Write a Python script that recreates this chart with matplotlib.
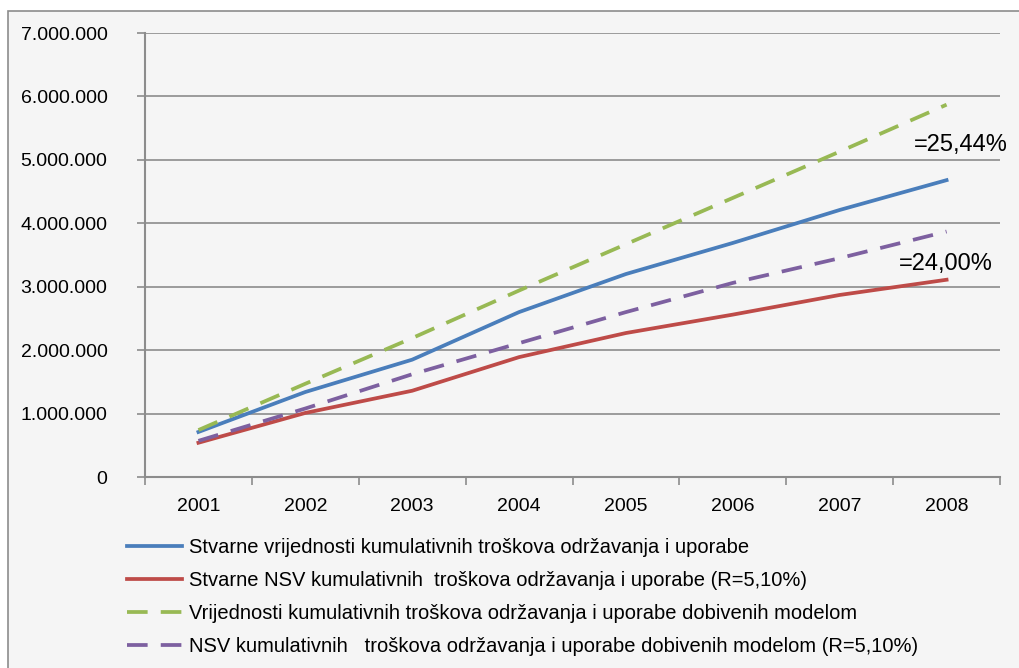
import matplotlib
matplotlib.use("Agg")
import numpy as np
from matplotlib import pyplot as plt
from matplotlib.patches import Rectangle
from matplotlib.ticker import FuncFormatter, MultipleLocator

plt.rcParams['font.family'] = ['Liberation Sans', 'DejaVu Sans']

years = ['2001', '2002', '2003', '2004', '2005', '2006', '2007', '2008']
stvarne = [0.71, 1.34, 1.85, 2.60, 3.20, 3.69, 4.21, 4.68]
stvarne_nsv = [0.54, 1.01, 1.36, 1.89, 2.27, 2.56, 2.87, 3.11]
model = [0.74, 1.47, 2.19, 2.94, 3.67, 4.40, 5.13, 5.87]
model_nsv = [0.57, 1.08, 1.62, 2.11, 2.60, 3.06, 3.45, 3.87]

labels = ['Stvarne vrijednosti kumulativnih troškova održavanja i uporabe',
          'Stvarne NSV kumulativnih  troškova održavanja i uporabe (R=5,10%)',
          'Vrijednosti kumulativnih troškova održavanja i uporabe dobivenih modelom',
          'NSV kumulativnih   troškova održavanja i uporabe dobivenih modelom (R=5,10%)']

bg = '#f5f5f5'
fig = plt.figure(figsize=(10.19, 6.68), dpi=100, facecolor='white')
border = Rectangle((8 / 1019, -0.1), 1.2, 1.1 - 11 / 668,
                   transform=fig.transFigure, facecolor=bg,
                   edgecolor='#8c8c8c', linewidth=1.2, zorder=-5)
fig.add_artist(border)
ax = fig.add_axes([145 / 1019, 1 - 477 / 668, 855 / 1019, 444 / 668])
ax.set_zorder(2)
ax.set_facecolor(bg)

x = np.arange(len(years))
ax.plot(x, stvarne, color='#4a7ebb', lw=2.7, label=labels[0])
ax.plot(x, stvarne_nsv, color='#be4b48', lw=2.7, label=labels[1])
ax.plot(x, model, color='#98b954', lw=2.7, dashes=(5.5, 3.5), label=labels[2])
ax.plot(x, model_nsv, color='#7d60a0', lw=2.7, dashes=(5.5, 3.5), label=labels[3])

ax.set_xlim(-0.5, len(years) - 0.5)
ax.set_ylim(0, 7)
ax.yaxis.set_major_locator(MultipleLocator(1))
ax.yaxis.set_major_formatter(FuncFormatter(
    lambda v, p: '0' if v == 0 else f'{int(round(v * 1e6)):,}'.replace(',', '.')))
ax.set_xticks(x)
ax.set_xticklabels(years)
ax.set_xticks(np.arange(-0.5, len(years)), minor=True)
ax.tick_params(axis='x', which='major', length=0, pad=15, labelsize=14)
ax.tick_params(axis='x', which='minor', length=6, color='#8c8c8c', width=1.2)
ax.tick_params(axis='y', length=6, color='#8c8c8c', width=1.2, labelsize=14, pad=21)
ax.grid(axis='y', color='#8c8c8c', lw=1.2)
ax.set_axisbelow(True)
for s in ['top', 'right']:
    ax.spines[s].set_visible(False)
for s in ['left', 'bottom']:
    ax.spines[s].set_color('#8c8c8c')
    ax.spines[s].set_linewidth(1.5)

ax.text(7.57, 5.23, '=25,44%', fontsize=17, ha='right', va='center')
ax.text(7.43, 3.36, '=24,00%', fontsize=17, ha='right', va='center')

ax.legend(loc='upper left', bbox_to_anchor=(109 / 1019, 1 - 520 / 668),
          bbox_transform=fig.transFigure, frameon=False, fontsize=14.5,
          handlelength=2.73, handletextpad=0.35, labelspacing=0.69)

fig.savefig('out.png', dpi=100, facecolor='white')
